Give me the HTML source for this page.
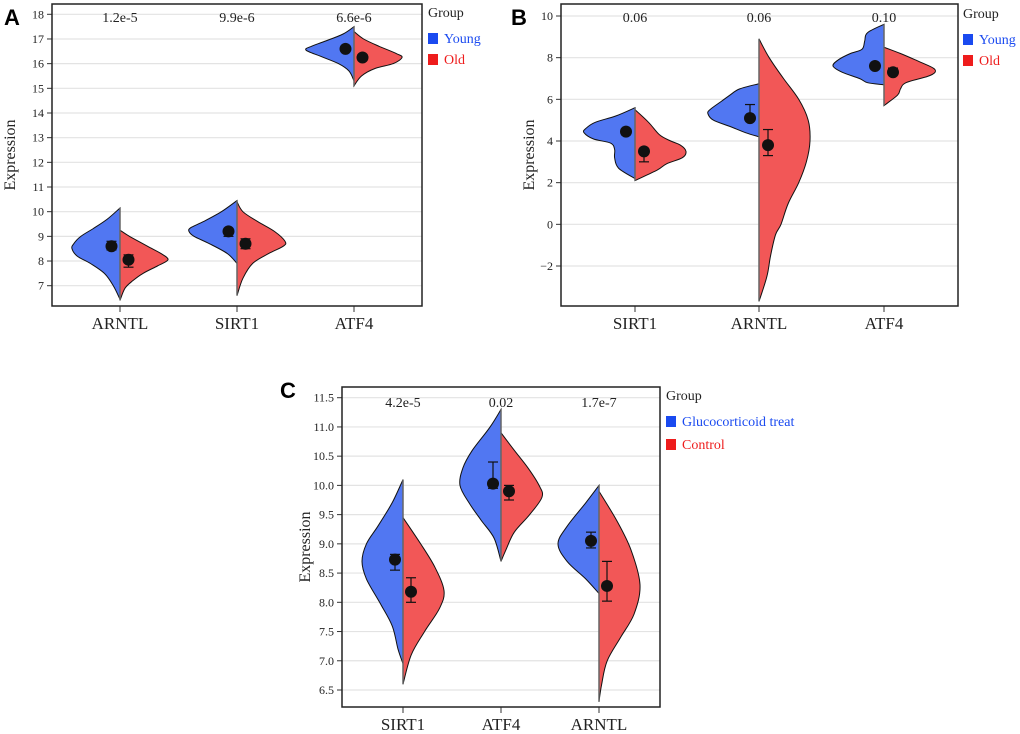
<!DOCTYPE html>
<html><head><meta charset="utf-8"><style>
html,body{margin:0;padding:0;background:#fff;}
svg{display:block;font-family:"Liberation Serif",serif;}
.lbl{font-family:"Liberation Sans",sans-serif;font-weight:bold;}
</style></head><body>
<svg id="fig" width="1020" height="734" viewBox="0 0 1020 734"></svg>
<script>
// ---- Panel A data ----
const catsA = ["ARNTL","SIRT1","ATF4"];
const pA = ["1.2e-5","9.9e-6","6.6e-6"];
const ticksA = [7,8,9,10,11,12,13,14,15,16,17,18];
const meanA1 = [8.6,9.2,16.6], loA1=[8.45,9.0,16.52], hiA1=[8.8,9.3,16.65];
const meanA2 = [8.05,8.7,16.25], loA2=[7.75,8.5,16.18], hiA2=[8.25,8.9,16.3];
const vA1 = [
 [[10.15,0],[9.7,0.15],[9.3,0.45],[9.0,0.75],[8.7,0.95],[8.5,1],[8.2,0.85],[7.9,0.5],[7.5,0.2],[7.0,0.06],[6.45,0]],
 [[10.45,0],[10.0,0.2],[9.6,0.6],[9.35,0.95],[9.2,1],[9.0,0.85],[8.7,0.45],[8.3,0.1],[7.9,0]],
 [[17.5,0],[17.2,0.12],[16.9,0.5],[16.7,0.85],[16.55,1],[16.3,0.6],[16.0,0.2],[15.7,0.04],[15.3,0]]];
const vA2 = [
 [[9.25,0],[9.0,0.1],[8.6,0.45],[8.3,0.8],[8.05,1],[7.8,0.7],[7.5,0.35],[7.2,0.15],[6.9,0.04],[6.4,0]],
 [[10.4,0],[10.0,0.05],[9.6,0.3],[9.2,0.7],[8.8,1],[8.6,0.95],[8.3,0.55],[7.9,0.2],[7.3,0.05],[6.6,0]],
 [[17.3,0],[17.0,0.1],[16.7,0.4],[16.4,0.85],[16.25,1],[16.0,0.75],[15.8,0.3],[15.5,0.07],[15.1,0]]];
// ---- Panel B data ----
const catsB = ["SIRT1","ARNTL","ATF4"];
const pB = ["0.06","0.06","0.10"];
const ticksB = [-2,0,2,4,6,8,10];
const tickLabB = ["\u22122","0","2","4","6","8","10"];
const meanB1 = [4.45,5.1,7.6], loB1=[4.3,5.1,7.55], hiB1=[4.5,5.75,7.65];
const meanB2 = [3.5,3.8,7.3], loB2=[3.0,3.3,7.2], hiB2=[3.6,4.55,7.5];
const vB1 = [
 [[5.6,0],[5.2,0.25],[4.9,0.7],[4.6,0.95],[4.4,1],[4.1,0.75],[3.9,0.35],[3.6,0.27],[3.2,0.27],[2.7,0.2],[2.2,0]],
 [[6.75,0],[6.5,0.25],[6.2,0.45],[5.9,0.65],[5.5,0.95],[5.3,1],[5.0,0.85],[4.7,0.45],[4.4,0.15],[4.2,0]],
 [[9.6,0],[9.2,0.2],[8.8,0.25],[8.4,0.3],[8.2,0.55],[7.9,0.85],[7.6,1],[7.3,0.75],[7.0,0.35],[6.8,0.2],[6.7,0]]];
const vB2 = [
 [[5.5,0],[4.9,0.15],[4.3,0.35],[4.0,0.6],[3.8,0.85],[3.5,1],[3.2,0.9],[2.9,0.5],[2.6,0.3],[2.1,0]],
 [[8.9,0],[8.0,0.1],[7.0,0.35],[6.0,0.7],[5.0,0.95],[4.0,1],[3.0,0.9],[2.0,0.7],[1.0,0.45],[0,0.3],[-0.5,0.2],[-1.5,0.12],[-2.5,0.07],[-3.7,0]],
 [[8.5,0],[8.2,0.2],[7.8,0.6],[7.5,0.95],[7.3,1],[7.1,0.8],[6.8,0.3],[6.5,0.2],[6.2,0.15],[5.7,0]]];
// ---- Panel C data ----
const catsC = ["SIRT1","ATF4","ARNTL"];
const pC = ["4.2e-5","0.02","1.7e-7"];
const ticksC = [6.5,7.0,7.5,8.0,8.5,9.0,9.5,10.0,10.5,11.0,11.5];
const meanC1 = [8.73,10.03,9.05], loC1=[8.55,9.95,8.93], hiC1=[8.82,10.4,9.2];
const meanC2 = [8.18,9.9,8.28], loC2=[8.0,9.75,8.02], hiC2=[8.42,10.0,8.7];
const vC1 = [
 [[10.1,0],[9.7,0.15],[9.3,0.5],[9.0,0.85],[8.7,1],[8.4,0.85],[8.0,0.45],[7.6,0.15],[7.2,0.05],[6.95,0]],
 [[11.3,0],[11.0,0.15],[10.6,0.6],[10.3,0.9],[10.0,1],[9.7,0.7],[9.4,0.35],[9.1,0.08],[8.7,0]],
 [[10.0,0],[9.7,0.2],[9.3,0.7],[9.0,1],[8.7,0.7],[8.4,0.2],[8.15,0]]];
const vC2 = [
 [[9.45,0],[9.0,0.3],[8.6,0.7],[8.2,1],[7.9,0.85],[7.5,0.4],[7.1,0.1],[6.6,0]],
 [[10.9,0],[10.6,0.2],[10.3,0.55],[10.0,0.9],[9.8,1],[9.5,0.6],[9.2,0.2],[8.9,0.05],[8.7,0]],
 [[9.9,0],[9.4,0.3],[8.9,0.7],[8.3,1],[7.8,0.8],[7.4,0.4],[7.0,0.1],[6.6,0.02],[6.3,0]]];

const NS="http://www.w3.org/2000/svg";
const svg=document.getElementById('fig');
function mk(tag,attrs,parent,text){const e=document.createElementNS(NS,tag);for(const k in attrs)e.setAttribute(k,attrs[k]);if(text!==undefined)e.textContent=text;(parent||svg).appendChild(e);return e;}
function smooth(pts){let d="M"+pts[0][0]+","+pts[0][1];for(let i=0;i<pts.length-1;i++){const p0=pts[Math.max(0,i-1)],p1=pts[i],p2=pts[i+1],p3=pts[Math.min(pts.length-1,i+2)];const c1=[p1[0]+(p2[0]-p0[0])/6,p1[1]+(p2[1]-p0[1])/6],c2=[p2[0]-(p3[0]-p1[0])/6,p2[1]-(p3[1]-p1[1])/6];d+=" C"+c1[0].toFixed(1)+","+c1[1].toFixed(1)+" "+c2[0].toFixed(1)+","+c2[1].toFixed(1)+" "+p2[0].toFixed(1)+","+p2[1].toFixed(1);}return d;}

function panel(o){
 const g=mk('g',{});
 
 
 const y=v=>o.y0+(v-o.v0)*(o.y1-o.y0)/(o.v1-o.v0);
 const x=i=>o.cx[i];
 o.ticks.forEach((t,i)=>{
  const gl=mk('line',{x1:o.L,x2:o.R,y1:y(t),y2:y(t),stroke:'#e3e3e3','stroke-width':1.2},g);
  
  
  mk('line',{x1:o.L-5,x2:o.L,y1:y(t),y2:y(t),stroke:'#333','stroke-width':1},g);
  const tl=mk('text',{x:o.L-8,y:y(t)+4,'text-anchor':'end','font-size':12,fill:'#222'},g,o.tickLab?o.tickLab[i]:String(o.fmt?t.toFixed(1):t));
  
  
 });
 const halves=[[o.v1s,-1,'#5177f2'],[o.v2s,1,'#f25757']];
 o.cats.forEach((c,i)=>{
  halves.forEach(([arr,s,col],k)=>{
   const prof=arr[i];
   const pts=prof.map(p=>[x(i)+s*Math.pow(p[1],0.7)*o.W,y(p[0])]);
   const d=smooth(pts)+" L"+x(i)+","+y(prof[prof.length-1][0])+" L"+x(i)+","+y(prof[0][0])+" Z";
   const v=mk('path',{d:d,fill:col,stroke:'#111','stroke-width':1},g);
   
   
  });
  const top=Math.max(o.v1s[i][0][0],o.v2s[i][0][0]);
  mk('line',{x1:x(i),x2:x(i),y1:y(top),y2:y(Math.min(o.v1s[i][o.v1s[i].length-1][0],o.v2s[i][o.v2s[i].length-1][0])),stroke:'#666','stroke-width':1.5},g);
  [[o.m1,o.lo1,o.hi1,-o.off],[o.m2,o.lo2,o.hi2,o.off]].forEach(([m,lo,hi,off],k)=>{
   const xx=x(i)+off;
   mk('line',{x1:xx,x2:xx,y1:y(lo[i]),y2:y(hi[i]),stroke:'#111','stroke-width':1.2},g);
   mk('line',{x1:xx-5,x2:xx+5,y1:y(lo[i]),y2:y(lo[i]),stroke:'#111','stroke-width':1.2},g);
   mk('line',{x1:xx-5,x2:xx+5,y1:y(hi[i]),y2:y(hi[i]),stroke:'#111','stroke-width':1.2},g);
   const dot=mk('circle',{cx:xx,cy:y(m[i]),r:6,fill:'#111'},g);
   
   
  });
  const pv=mk('text',{x:x(i),y:o.pY,'text-anchor':'middle','font-size':14,fill:'#222'},g,o.p[i]);
  
  
  mk('line',{x1:x(i),x2:x(i),y1:o.B,y2:o.B+6,stroke:'#333'},g);
  const xl=mk('text',{x:x(i),y:o.B+23,'text-anchor':'middle','font-size':17,fill:'#222'},g,c);
  
  
 });
 mk('rect',{x:o.L,y:o.T,width:o.R-o.L,height:o.B-o.T,fill:'none',stroke:'#222','stroke-width':1.5},g);
 const yt=mk('text',{x:0,y:0,'text-anchor':'middle','font-size':16,fill:'#222',transform:`translate(${o.yLabX},${(o.T+o.B)/2}) rotate(-90)`},g,'Expression');
 
 
 const pl=mk('text',{x:o.lblX,y:o.lblY,'font-size':22,class:'lbl',fill:'#000'},g,o.label);
 
 
 const lg=mk('g',{},g);
 
 
 mk('text',{x:o.lgX,y:o.lgY,'font-size':14,fill:'#222'},lg,'Group');
 [[o.n1,'#1a4af0'],[o.n2,'#ee1c1c']].forEach(([n,col],k)=>{
  const yy=o.lgY+17+k*o.lgGap;
  const e=mk('g',{},lg);
  
  
  mk('rect',{x:o.lgX,y:yy-1,width:10,height:11,fill:col},e);
  mk('text',{x:o.lgX+16,y:yy+9,'font-size':14,fill:col},e,n);
 });
}
panel({name:'panel-a',label:'A',lblX:4,lblY:25,L:52,R:422,T:4,B:306,y0:14.3,y1:285.7,v0:18,v1:7,ticks:ticksA,cx:[120,237,354],W:48,off:8.5,
 cats:catsA,p:pA,pY:22,v1s:vA1,v2s:vA2,m1:meanA1,lo1:loA1,hi1:hiA1,m2:meanA2,lo2:loA2,hi2:hiA2,yLabX:15,
 lgX:428,lgY:17,lgGap:21,n1:'Young',n2:'Old'});
panel({name:'panel-b',label:'B',lblX:511,lblY:25,L:561,R:958,T:4,B:306,y0:16,y1:266,v0:10,v1:-2,ticks:ticksB,tickLab:tickLabB,cx:[635,759,884],W:51,off:9,
 cats:catsB,p:pB,pY:22,v1s:vB1,v2s:vB2,m1:meanB1,lo1:loB1,hi1:hiB1,m2:meanB2,lo2:loB2,hi2:hiB2,yLabX:534,
 lgX:963,lgY:18,lgGap:21,n1:'Young',n2:'Old'});
panel({name:'panel-c',label:'C',lblX:280,lblY:398,L:342,R:660,T:387,B:707,y0:397.7,y1:690,v0:11.5,v1:6.5,ticks:ticksC,fmt:true,cx:[403,501,599],W:41,off:8,
 cats:catsC,p:pC,pY:407,v1s:vC1,v2s:vC2,m1:meanC1,lo1:loC1,hi1:hiC1,m2:meanC2,lo2:loC2,hi2:hiC2,yLabX:310,
 lgX:666,lgY:400,lgGap:23,n1:'Glucocorticoid treat',n2:'Control'});
</script>
</body></html>
